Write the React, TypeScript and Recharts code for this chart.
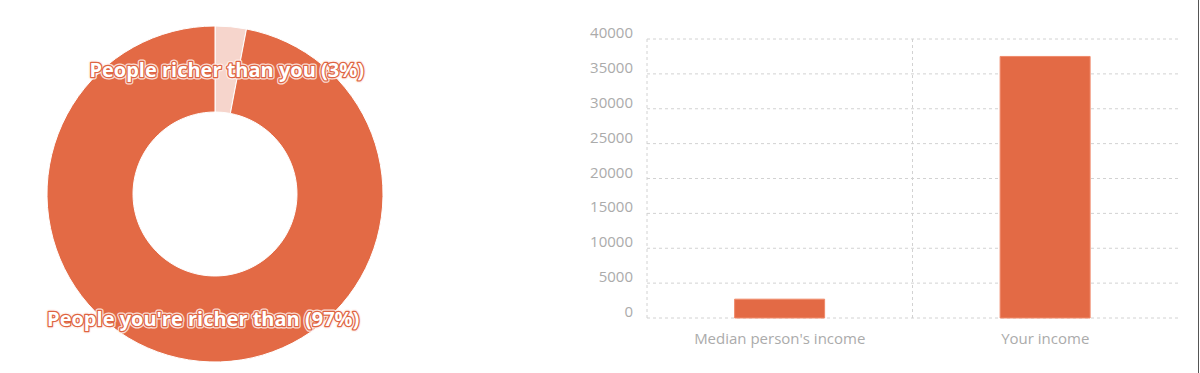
import React from 'react';
import { PieChart, Pie, Cell, BarChart, Bar, XAxis, YAxis, CartesianGrid } from 'recharts';

const pieNames = ['People richer than you', "People you're richer than"];
const pieValues = [3, 97];
const pieColors = ['#f6d5cc', '#e36a45'];

const barCategories = ["Median person's income", 'Your income'];
const barValues = [2700, 37500];
const yTicks = [0, 5000, 10000, 15000, 20000, 25000, 30000, 35000, 40000];

const ORANGE = '#e36a45';
const FONT = '"Open Sans", sans-serif';
const RADIAN = Math.PI / 180;

const pieData = pieNames.map((name, i) => ({ name, value: pieValues[i] }));
const barData = barCategories.map((name, i) => ({ name, value: barValues[i] }));

const renderPieLabel = (props: any) => {
  const { cx, cy, midAngle, innerRadius, outerRadius, name, value } = props;
  const r = (innerRadius + outerRadius) / 2;
  const x = cx + r * Math.cos(-midAngle * RADIAN);
  const y = cy + r * Math.sin(-midAngle * RADIAN);
  const text = `${name} (${value}%)`;
  const common = {
    x,
    y,
    textAnchor: 'middle' as const,
    dominantBaseline: 'central' as const,
    fontFamily: FONT,
    fontWeight: 700,
    fontSize: 20,
  };
  return (
    <g>
      <text {...common} fill="#fff" stroke="rgba(255,240,235,0.85)" strokeWidth={5} strokeLinejoin="round">
        {text}
      </text>
      <text {...common} fill="#fff" stroke="#de6442" strokeWidth={2.5} strokeLinejoin="round" paintOrder="stroke">
        {text}
      </text>
    </g>
  );
};

const YTick = (props: any) => {
  const { x, y, payload } = props;
  return (
    <text x={x - 6} y={y - 7} textAnchor="end" dominantBaseline="central" fill="#ababab" fontSize={15} fontFamily={FONT}>
      {payload.value}
    </text>
  );
};

const XTick = (props: any) => {
  const { x, y, payload } = props;
  return (
    <text x={x} y={y + 12} textAnchor="middle" dominantBaseline="central" fill="#ababab" fontSize={15} fontFamily={FONT}>
      {payload.value}
    </text>
  );
};

export default function App() {
  return (
    <div style={{ position: 'absolute', left: 0, top: 0, width: 1200, height: 373, background: '#fff', fontFamily: FONT }}>
      <div style={{ position: 'absolute', left: 0, top: 0 }}>
        <PieChart width={430} height={373} margin={{ top: 0, right: 0, bottom: 0, left: 0 }}>
          <Pie
            data={pieData}
            dataKey="value"
            nameKey="name"
            cx={215}
            cy={194}
            innerRadius={82}
            outerRadius={168}
            startAngle={90}
            endAngle={-270}
            stroke="#fff"
            strokeWidth={1}
            label={renderPieLabel}
            labelLine={false}
            isAnimationActive={false}
          >
            {pieData.map((d, i) => (
              <Cell key={d.name} fill={pieColors[i]} />
            ))}
          </Pie>
        </PieChart>
      </div>
      <div style={{ position: 'absolute', left: 560, top: 0 }}>
        <BarChart
          width={640}
          height={373}
          data={barData}
          margin={{ top: 39, right: 22, bottom: 25, left: 0 }}
          barCategoryGap="33%"
        >
          <CartesianGrid
            stroke="#d2d2d2"
            strokeDasharray="3 3"
            verticalCoordinatesGenerator={(p: any) => [p.offset.left, p.offset.left + p.offset.width / 2]}
          />
          <XAxis dataKey="name" axisLine={false} tickLine={false} tick={<XTick />} height={30} interval={0} />
          <YAxis
            width={87}
            domain={[0, 40000]}
            ticks={yTicks}
            axisLine={false}
            tickLine={false}
            tick={<YTick />}
            interval={0}
          />
          <Bar dataKey="value" fill={ORANGE} stroke="#f08a6a" strokeWidth={1} isAnimationActive={false} />
        </BarChart>
      </div>
      <div style={{ position: 'absolute', left: 1198, top: 0, width: 1, height: 373, background: '#555' }} />
    </div>
  );
}
